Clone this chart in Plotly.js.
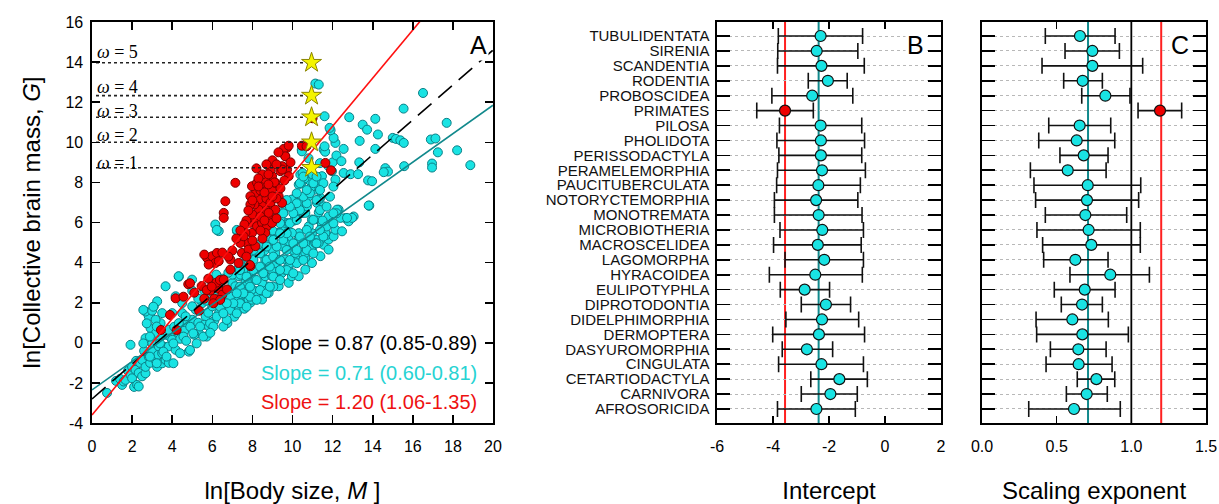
<!DOCTYPE html>
<html>
<head>
<meta charset="utf-8">
<script src="https://cdn.plot.ly/plotly-3.0.1.min.js"></script>
<style>html,body{margin:0;padding:0;background:#fff;}#chart{width:1219px;height:504px;}</style>
</head>
<body>
<div id="chart"></div>
<script>
// ---------- Panel A data: ln body size (M) vs ln collective brain mass (G) ----------
const cyanPoints = [
[0.75,-2.5],[1.2,-1.9],[1.4,-1.8],[1.5,-2.1],[1.58,-1.93],[1.67,-1.85],[1.8,-1.4],[1.92,-1.6],[2.0,-1.77],[2.0,-1.2],
[2.17,-1.35],[2.1,-2.2],[2.25,-2.1],[2.33,-2.18],[2.33,-1.5],[2.2,-0.9],[2.4,-1.0],[2.5,-1.67],[2.5,-0.85],[2.6,-0.4],
[2.67,-1.52],[2.67,-1.2],[2.83,-0.7],[2.9,-1.0],[2.9,0.1],[3.0,-0.35],[3.0,0],[3.17,-0.85],[3.25,-1.2],[3.3,-0.6],
[3.33,-0.18],[3.5,-1.02],[3.5,-0.52],[3.6,-0.2],[3.67,-0.85],[3.83,-1.0],[3.83,-0.18],[4.17,-0.35],[1.92,-0.1],[2.67,0.23],
[2.92,0.73],[2.83,1.32],[3.08,1.81],[2.67,1.56],[3.25,2.07],[3.42,0.98],[3.67,0.4],[3.4,0.3],[3.2,0.5],[3.9,0.3],
[4.0,0.15],[4.33,0.48],[4.4,0.2],[4.83,-0.44],[4.33,3.3],[3.67,2.82],[4.17,2.32],[4.5,1.48],[5.0,1.15],[5.33,0.48],
[4.67,0.9],[4.6,0.6],[4.9,0.8],[5.1,0.4],[5.17,1.65],[5.3,1.0],[5.67,1.32],[5.6,0.9],[5.83,0.82],[5.5,1.98],
[5.8,1.5],[6.0,1.82],[6.1,1.1],[6.33,1.48],[6.4,1.9],[6.6,1.6],[6.75,0.98],[6.9,1.8],[7.1,1.3],[7.0,2.15],
[7.33,1.65],[7.4,2.0],[7.6,1.7],[7.67,2.32],[7.9,2.0],[7.83,2.82],[6.67,2.48],[7.0,2.98],[7.33,3.32],[3.83,0.65],
[4.1,0.8],[4.33,0.98],[4.67,1.32],[5.0,1.82],[4.5,1.98],[4.0,1.48],[3.5,1.48],[3.17,1.15],[3.0,1.6],[4.32,3.32],
[4.99,3.15],[5.6,2.6],[6.0,3.0],[6.3,2.8],[6.5,3.2],[7.0,3.4],[7.6,3.7],[5.98,2.32],[6.32,2.16],[6.65,2.41],
[7.15,2.82],[6.98,2.16],[7.15,2.32],[7.48,2.41],[7.81,2.16],[7.98,2.15],[8.1,2.6],[8.23,2.32],[8.48,2.16],[8.81,2.49],
[8.73,2.81],[7.31,2.66],[7.98,2.66],[7.65,2.99],[7.81,3.15],[8.15,3.15],[8.48,2.99],[7.4,3.4],[7.98,3.57],[8.31,3.65],
[8.64,3.32],[8.98,3.32],[9.31,2.82],[9.31,3.4],[9.48,3.49],[9.81,2.99],[9.97,3.32],[10.31,3.32],[8.48,3.81],[8.64,4.15],
[8.98,3.65],[9.14,3.98],[9.31,4.15],[9.64,3.64],[9.64,4.15],[9.81,3.82],[9.89,3.98],[10.31,4.06],[10.64,3.65],[10.97,3.98],
[10.14,4.31],[10.64,4.23],[10.47,4.48],[10.14,4.48],[9.98,4.64],[10.64,4.48],[10.97,4.64],[10.81,4.89],[10.97,4.82],[11.39,4.32],
[11.55,4.89],[11.39,5.14],[11.3,4.98],[11.8,4.65],[11.8,5.15],[11.14,5.15],[11.14,4.97],[11.72,5.39],[12.05,5.31],[12.14,5.64],
[12.47,5.56],[11.64,5.48],[10.97,5.47],[10.64,4.98],[10.31,5.15],[10.31,5.47],[9.97,5.48],[9.81,5.14],[9.64,4.98],[9.48,4.81],
[9.14,4.48],[8.98,4.65],[8.81,4.14],[8.31,4.48],[8.65,4.81],[8.98,5.14],[9.23,5.47],[9.31,5.48],[9.64,5.64],[9.64,5.98],
[9.81,5.97],[10.14,6.3],[10.14,6.31],[10.47,6.47],[10.64,6.48],[10.81,5.81],[10.97,6.15],[11.31,6.14],[11.47,5.81],[11.47,5.98],
[11.8,6.3],[11.97,5.97],[12.3,6.64],[12.63,6.22],[12.8,6.06],[13.05,6.3],[13.83,6.84],[13.8,6.85],[12.22,6.64],[12.39,6.23],
[12.97,6.23],[12.72,6.23],[11.31,6.51],[10.31,6.56],[10.1,6.1],[11.5,6.1],[9.64,6.73],[9.98,7.14],[10.31,6.98],[10.47,6.98],
[10.72,6.81],[11.22,6.98],[11.55,6.81],[11.39,7.23],[11.3,7.14],[10.64,7.31],[10.81,7.31],[9.97,7.14],[11.14,7.64],[11.3,7.97],
[10.44,7.97],[10.89,8.06],[10.31,7.89],[10.39,8.39],[10.6,8.2],[10.9,7.7],[11.3,8.14],[11.47,8.31],[11.0,8.4],[10.5,8.47],
[11.97,8.56],[12.14,8.14],[12.55,8.47],[12.9,8.41],[13.27,8.41],[13.77,8.1],[13.97,8.06],[11.8,8.8],[12.0,9.0],[11.37,8.96],
[10.8,9.2],[10.46,9.62],[10.47,9.55],[11.55,9.64],[11.63,9.53],[11.6,9.8],[12.19,9.34],[12.44,9.06],[13.33,9.0],[12.55,9.67],
[12.14,9.97],[12.05,10.22],[11.9,10.6],[11.85,10.72],[13.35,10.07],[14.13,9.67],[14.63,8.71],[14.76,8.54],[14.55,8.51],[15.57,8.81],
[11.6,11.3],[12.83,11.25],[13.5,10.88],[13.72,10.63],[14.13,11.17],[14.26,10.39],[15.0,10.22],[15.16,10.17],[15.38,10.1],[15.55,9.97],
[15.54,11.68],[11.14,12.93],[11.31,12.88],[16.51,12.46],[16.9,10.14],[17.13,10.19],[17.69,10.97],[17.25,9.5],[18.21,9.6],[16.96,8.94],
[16.96,8.74],[18.87,8.86],[6.15,5.9],[6.32,5.57],[7.23,5.57],[8.3,4.9],[8.0,4.3],[7.7,4.0],[7.3,3.7],[6.8,3.5],
[6.2,3.4],[5.3,2.2],[5.0,2.6],[5.7,2.1],[6.2,2.5],[8.6,4.6],[9.0,5.6],[9.4,6.2],[8.7,5.3],[9.1,6.6],
[2.56,1.64],[3.06,1.8],[2.73,0.97],[3.23,0.81],[2.89,0.31],[2.56,-0.03],[3.39,-0.03],[3.56,-0.44],[4.06,-1.02],[4.06,-0.03],
[4.56,0.31],[4.89,-0.36],[5.05,0.47],[5.39,0.81],[5.22,-0.03],[5.72,0.31],[5.89,0.97],[6.22,1.31],[6.55,0.81],[6.72,1.14],
[6.39,1.8],[6.88,1.64],[7.22,1.47],[7.38,1.97],[7.71,1.8],[7.88,2.3],[8.21,2.14],[8.38,2.63],[8.71,2.47],[9.04,2.8],
[9.04,3.3],[9.38,3.13],[9.71,3.63],[10.04,3.47],[10.21,3.97],[10.54,4.13],[10.71,4.63],[11.04,4.46],[11.2,4.96],[11.54,5.3],
[11.7,5.8],[12.04,5.96],[12.2,6.46],[6.88,2.3],[7.38,2.8],[7.71,3.3],[8.05,3.63],[8.38,3.8],[8.71,4.13],[9.04,4.3],
[9.21,4.8],[9.54,5.13],[9.71,5.46],[9.87,5.96],[10.21,6.13],[10.37,6.62],[10.71,6.96],[10.54,7.29],[10.87,7.46],[11.2,7.12],
[11.37,6.62],[11.7,6.79],[11.87,7.29],[12.04,6.46],[11.04,6.13],[10.71,5.63],[10.37,5.3],[10.04,4.96],[9.71,4.63],[9.38,4.13],
[9.87,4.13],[10.21,4.63],[10.54,4.96],[10.87,5.3],[11.37,5.63],[8.21,3.13],[8.54,3.47],[8.87,3.8],[7.88,2.8],[7.55,2.47],
[7.05,1.97],[6.55,1.47],[6.05,0.81],[5.55,0.31],[4.39,-0.52],[3.72,-0.69],[3.23,-1.02],[2.89,-0.69],[6.72,1.97],[7.22,2.47],
[7.38,3.63],[8.05,4.13],[8.38,4.46],[8.71,4.8],[9.04,5.13],[9.38,5.46],[8.87,2.8],[9.38,3.63],[6.22,5.63],[7.22,5.63],
[8.05,4.63],[7.71,4.3],[7.38,3.97],[9.38,5.96],[9.54,6.46],[10.04,6.46],[10.21,6.96],[9.87,6.79],[10.71,7.62],[11.04,7.96],
[11.54,7.96],[11.37,7.62],[12.04,7.79],[10.37,7.96],[10.54,8.29],[11.2,8.29],[10.21,7.46],[9.71,7.12],[4.7,0.1],[5.9,0.5]
];
const redPoints = [
[3.44,0.64],[4.22,0.64],[3.89,1.39],[4.17,2.22],[4.8,2.92],[5.34,1.6],[5.47,2.83],[5.1,2.5],[5.6,2.2],[5.9,2.6],
[6.1,2.2],[6.3,2.7],[6.5,2.4],[6.2,3.0],[5.8,3.2],[6.38,3.13],[6.0,4.0],[5.74,4.23],[5.99,4.32],[6.23,4.48],
[6.15,3.98],[6.32,4.07],[5.82,3.9],[6.57,3.15],[6.73,2.66],[6.9,3.65],[6.9,4.15],[7.31,3.98],[7.48,4.48],[7.9,3.82],
[7.88,3.88],[7.73,4.98],[7.4,4.98],[7.98,5.48],[7.65,5.48],[7.9,5.98],[8.15,6.15],[8.23,5.81],[8.48,5.98],[8.73,5.81],
[8.81,6.31],[8.9,6.81],[8.64,6.64],[8.48,6.98],[8.31,7.15],[8.15,7.48],[7.98,7.81],[7.9,7.31],[8.23,7.98],[8.56,7.81],
[8.64,8.14],[8.98,7.64],[9.14,7.98],[8.98,8.31],[8.9,8.64],[9.31,7.31],[9.48,6.98],[9.14,6.64],[9.39,8.56],[9.73,8.64],
[9.64,9.31],[9.73,9.72],[9.81,8.31],[9.48,8.81],[8.81,6.48],[8.31,6.64],[7.15,7.98],[6.65,7.06],[6.57,6.48],[6.57,6.23],
[7.56,5.31],[7.81,4.65],[8.15,4.82],[8.64,5.48],[8.98,5.98],[9.56,9.67],[9.81,9.83],[9.64,9.3],[9.48,8.64],[10.47,9.83],
[10.7,9.8],[11.0,11.2],[11.64,8.97],[11.92,8.6],[8.4,7.6],[8.7,7.2],[8.1,6.9],[8.0,6.4],[8.4,6.3],[7.7,6.1],
[8.9,7.0],[9.2,7.2],[9.0,9.1],[9.3,9.5],[9.1,8.0],[8.5,8.4],[8.2,8.7],[7.9,6.9],[7.6,5.9],[7.4,5.6],
[7.2,5.2],[7.0,4.6],[7.7,4.3],[8.0,5.1],[8.5,5.2],[6.8,4.3],[6.5,4.5],[5.6,4.4],[8.3,8.2],[8.7,8.9],
[4.56,2.3],[4.89,2.97],[5.72,2.63],[5.97,2.8],[6.39,2.14],[6.05,1.97],[8.8,7.9],[8.6,7.5],[9.0,7.3],[8.3,7.8],
[8.0,7.1],[7.8,6.6],[8.6,6.1],[9.2,6.2],[9.4,7.7],[8.8,8.4],[9.6,8.1],[9.2,8.9],[9.9,9.0],[8.4,5.6]
];
// regression fits: all species, non-primates, primates
const fitNames = ['All mammals', 'Non-primates', 'Primates'];
const fitSlopes = [0.87, 0.71, 1.20];
const fitIntercepts = [-2.8, -2.35, -3.6];
const fitLabels = ['Slope = 0.87 (0.85-0.89)', 'Slope = 0.71 (0.60-0.81)', 'Slope = 1.20 (1.06-1.35)'];
// omega reference stars
const omegaLevels = [1, 2, 3, 4, 5];
const omegaG = [8.73, 10.0, 11.25, 12.33, 13.97];
const omegaM = 10.95;
// tick labels
const aXTicks = [0, 2, 4, 6, 8, 10, 12, 14, 16, 18, 20];
const aYTicks = [-4, -2, 0, 2, 4, 6, 8, 10, 12, 14, 16];
const bXTicks = [-6, -4, -2, 0, 2];
const cXTicks = ['0.0', '0.5', '1.0', '1.5'];

// ---------- Panels B and C data ----------
const orders = ['TUBULIDENTATA','SIRENIA','SCANDENTIA','RODENTIA','PROBOSCIDEA','PRIMATES','PILOSA','PHOLIDOTA',
 'PERISSODACTYLA','PERAMELEMORPHIA','PAUCITUBERCULATA','NOTORYCTEMORPHIA','MONOTREMATA','MICROBIOTHERIA',
 'MACROSCELIDEA','LAGOMORPHA','HYRACOIDEA','EULIPOTYPHLA','DIPROTODONTIA','DIDELPHIMORPHIA','DERMOPTERA',
 'DASYUROMORPHIA','CINGULATA','CETARTIODACTYLA','CARNIVORA','AFROSORICIDA'];
const interceptEst = [-2.30,-2.44,-2.27,-2.04,-2.60,-3.57,-2.30,-2.29,-2.29,-2.25,-2.38,-2.46,-2.37,-2.24,-2.40,-2.17,-2.49,-2.87,-2.11,-2.25,-2.36,-2.79,-2.27,-1.63,-1.95,-2.45];
const interceptLo  = [-3.81,-3.83,-3.84,-2.74,-4.04,-4.58,-3.77,-3.86,-3.79,-3.84,-3.87,-3.95,-3.95,-3.75,-3.98,-3.57,-4.13,-3.74,-2.99,-3.54,-4.01,-3.67,-3.80,-2.65,-2.99,-3.84];
const interceptHi  = [-0.80,-0.97,-0.74,-1.35,-1.15,-2.56,-0.83,-0.73,-0.83,-0.70,-0.88,-0.97,-0.82,-0.77,-0.85,-0.77,-0.81,-1.98,-1.23,-0.94,-0.73,-1.87,-0.77,-0.63,-0.99,-1.06];
const exponentEst = [0.656,0.739,0.739,0.674,0.826,1.192,0.654,0.634,0.681,0.574,0.708,0.703,0.692,0.714,0.732,0.625,0.859,0.688,0.670,0.605,0.672,0.645,0.647,0.766,0.701,0.616];
const exponentLo  = [0.424,0.556,0.402,0.547,0.668,1.045,0.447,0.380,0.522,0.324,0.348,0.359,0.424,0.368,0.406,0.413,0.589,0.484,0.531,0.362,0.366,0.458,0.429,0.638,0.565,0.313];
const exponentHi  = [0.891,0.920,1.076,0.806,0.991,1.337,0.862,0.889,0.844,0.831,1.063,1.049,0.969,1.060,1.060,0.844,1.121,0.891,0.806,0.846,0.980,0.831,0.871,0.889,0.839,0.926];
const interceptRefs = [-3.57, -2.37];      // primates, non-primates
const exponentRefs = [1.0, 1.20, 0.71];    // isometry, primates, non-primates

// ---------- styles ----------
const CYAN = '#19e3e3', CYAN_EDGE = '#0b7f86', RED = '#ee0000', RED_EDGE = '#7a0000', TEAL = '#11898c';
const FONT = 'Arial, "Liberation Sans", sans-serif';
const traces = [];

traces.push({type:'scatter', mode:'markers', x: cyanPoints.map(p=>p[0]), y: cyanPoints.map(p=>p[1]),
  xaxis:'x', yaxis:'y', marker:{size:9, color:CYAN, line:{color:CYAN_EDGE, width:1}}, hoverinfo:'skip'});
traces.push({type:'scatter', mode:'markers', x: redPoints.map(p=>p[0]), y: redPoints.map(p=>p[1]),
  xaxis:'x', yaxis:'y', marker:{size:9, color:RED, line:{color:RED_EDGE, width:1}}, hoverinfo:'skip'});
omegaG.forEach((g)=>{
  traces.push({type:'scatter', mode:'lines', x:[0.2, omegaM], y:[g, g], xaxis:'x', yaxis:'y',
    line:{color:'#222', width:1.6, dash:'dot'}, hoverinfo:'skip'});
});
const fitStyles = [{color:'#000', width:1.6, dash:'18px,9px'}, {color:TEAL, width:1.6}, {color:'#ff1010', width:1.6}];
fitSlopes.forEach((b,i)=>{
  const xs = [0, 20];
  traces.push({type:'scatter', mode:'lines', x:xs, y:xs.map(x=>fitIntercepts[i]+b*x), xaxis:'x', yaxis:'y',
    line:fitStyles[i], name:fitNames[i], hoverinfo:'skip'});
});
traces.push({type:'scatter', mode:'markers', x: omegaG.map(()=>omegaM), y: omegaG, xaxis:'x', yaxis:'y',
  marker:{symbol:'star', size:15, color:'#f4f400', line:{color:'#8a8400', width:1}}, hoverinfo:'skip'});

// reference vertical lines in B and C drawn as traces over the category index range
function vline(xv, xa, ya, color, width){
  traces.push({type:'scatter', mode:'lines', xaxis:xa, yaxis:ya, x:[xv, xv], y:[orders[0], orders[orders.length-1]],
    line:{color:color, width:width}, hoverinfo:'skip', cliponaxis:true});
}

function panel(est, lo, hi, xa, ya){
  const isP = orders.map(o=>o==='PRIMATES');
  [false, true].forEach(flag=>{
    const idx = orders.map((o,i)=>i).filter(i=>isP[i]===flag);
    traces.push({type:'scatter', mode:'markers', xaxis:xa, yaxis:ya,
      x: idx.map(i=>est[i]), y: idx.map(i=>orders[i]),
      error_x:{type:'data', symmetric:false, array: idx.map(i=>hi[i]-est[i]), arrayminus: idx.map(i=>est[i]-lo[i]),
        color:'#111', thickness:1.6, width:8},
      marker:{size:11, color: flag?RED:CYAN, line:{color:'#111', width:1.2}}, hoverinfo:'skip'});
  });
}
panel(interceptEst, interceptLo, interceptHi, 'x2', 'y2');
panel(exponentEst, exponentLo, exponentHi, 'x3', 'y3');

const W = 1219, H = 504;
const yDom = [(H-423)/H, (H-22)/H];
const frame = {showline:true, linecolor:'#000', linewidth:1.6, mirror:'ticks', zeroline:false, showgrid:false,
  ticks:'inside', tickcolor:'#000', tickwidth:1.6, tickfont:{family:FONT, size:16, color:'#000'}};
const catAxis = Object.assign({}, frame, {type:'category', categoryarray:orders, categoryorder:'array',
  tickmode:'array', tickvals:orders, ticktext:orders,
  range:[orders.length-1+0.94, -0.94], ticklen:13, showgrid:true, griddash:'dot', gridcolor:'#b8b8b8', gridwidth:1,
  tickfont:{family:FONT, size:15, color:'#111'}, ticklabelstandoff:3});

const layout = {
  width:W, height:H, margin:{l:0, r:0, t:0, b:0}, paper_bgcolor:'#fff', plot_bgcolor:'#fff', showlegend:false,
  font:{family:FONT, color:'#000'},
  xaxis: Object.assign({}, frame, {domain:[92/W, 493/W], anchor:'y', range:[0,20], ticklen:8,
    tickmode:'array', tickvals:aXTicks, ticktext:aXTicks.map(String), ticklabelstandoff:8,
    title:{text:'ln[Body size, <i>M</i> ]', font:{family:FONT, size:24}, standoff:30}}),
  yaxis: Object.assign({}, frame, {domain:yDom, anchor:'x', range:[-4,16], ticklen:8,
    tickmode:'array', tickvals:aYTicks, ticktext:aYTicks.map(String), ticklabelstandoff:4,
    title:{text:'ln[Collective brain mass, <i>G</i>]', font:{family:FONT, size:24}, standoff:18}}),
  xaxis2: Object.assign({}, frame, {domain:[717/W, 941/W], anchor:'y2', range:[-6,2], ticklen:7,
    tickmode:'array', tickvals:bXTicks, ticktext:bXTicks.map(String), ticklabelstandoff:8,
    title:{text:'Intercept', font:{family:FONT, size:24}, standoff:30}}),
  yaxis2: Object.assign({}, catAxis, {domain:yDom, anchor:'x2'}),
  xaxis3: Object.assign({}, frame, {domain:[982/W, 1206/W], anchor:'y3', range:[0,1.5], ticklen:7,
    tickmode:'array', tickvals:cXTicks.map(Number), ticktext:cXTicks, ticklabelstandoff:8,
    title:{text:'Scaling exponent', font:{family:FONT, size:24}, standoff:30}}),
  yaxis3: Object.assign({}, catAxis, {domain:yDom, anchor:'x3', showticklabels:false}),
  shapes: [],
  annotations: []
};
const refLines = [
  ['x2','y2',interceptRefs[0],'#ff2020',2], ['x2','y2',interceptRefs[1],TEAL,2],
  ['x3','y3',exponentRefs[0],'#000',1.8], ['x3','y3',exponentRefs[1],'#ff2020',2], ['x3','y3',exponentRefs[2],TEAL,2]
];
refLines.forEach(([xa,ya,v,c,w])=>{
  layout.shapes.push({type:'line', xref:xa, yref:ya+' domain', x0:v, x1:v, y0:0, y1:1, layer:'below', line:{color:c, width:w}});
});
const labelYs = [8.98, 10.36, 11.55, 12.74, 14.5];
omegaLevels.forEach((w,i)=>{
  layout.annotations.push({xref:'x', yref:'y', x:0.15, y:labelYs[i], xanchor:'left', yanchor:'middle', showarrow:false,
    text:'<i>ω</i> = '+w, font:{family:'"Liberation Serif", "Times New Roman", serif', size:18, color:'#000'}});
});
const slopeColors = ['#000', '#27d3d3', '#ee1111'];
const slopeYs = [0, -1.5, -2.95];
fitLabels.forEach((t,i)=>{
  layout.annotations.push({xref:'x', yref:'y', x:19.3, y:slopeYs[i], xanchor:'right', yanchor:'middle', showarrow:false,
    text:t, font:{family:FONT, size:20, color:slopeColors[i]}});
});
[['A',478],['B',915],['C',1180]].forEach(([t,px])=>{
  layout.annotations.push({xref:'paper', yref:'paper', x:px/W, y:1-45/H, xanchor:'center', yanchor:'middle',
    showarrow:false, text:t, font:{family:FONT, size:25, color:'#000'}, bgcolor:'#fff'});
});

Plotly.newPlot('chart', traces, layout, {displayModeBar:false, staticPlot:true});
</script>
</body>
</html>
